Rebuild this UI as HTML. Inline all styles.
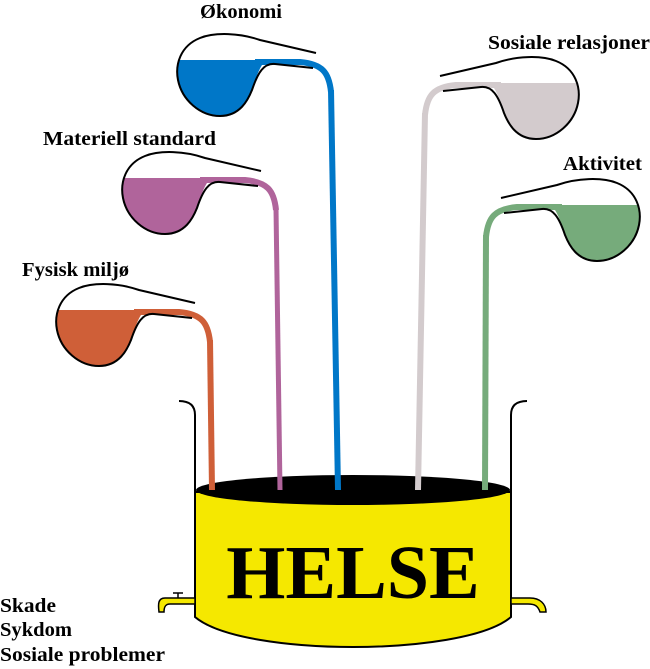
<!DOCTYPE html>
<html><head><style>html,body{margin:0;padding:0;background:#fff}svg{display:block}</style></head>
<body>
<svg width="650" height="669" viewBox="0 0 650 669" xmlns="http://www.w3.org/2000/svg" font-family="Liberation Serif, serif" font-weight="bold">
<defs>
<g id="cup">
  <path d="M316,53 L260,40 C240,33 215,32 200,38 C180,46 175,65 178,80 C182,100 200,116 220,116 C240,116 248,100 252,90 C258,72 264,63 275,64 L313,68" fill="none" stroke="#000" stroke-width="2"/>
</g>
<path id="bowl" d="M178,60 L266,60 C258,68 256,80 252,90 C248,100 240,116 220,116 C200,116 182,100 178,80 Z" stroke="none"/>
<path id="lip" d="M255,62 L300,62 C322,64 329,72 331,92" fill="none" stroke-width="6"/>
</defs>
<!-- pot wires -->
<path d="M179,401 C190,401 195,406 195,415 L195,600" fill="none" stroke="#000" stroke-width="2"/>
<path d="M527,401 C516,401 511,406 511,415 L511,600" fill="none" stroke="#000" stroke-width="2"/>
<!-- pot body -->
<path d="M195,492 L195,617 C220,638 290,647 353,647 C416,647 486,638 511,617 L511,492 Z" fill="#f5e800" stroke="#000" stroke-width="2"/>
<ellipse cx="353" cy="490" rx="157" ry="15" fill="#000"/>
<!-- handles -->
<path d="M195,598 L165,598 C158,598 158,604 159,612 L164,612 C164,606 166,604 170,604 L195,604 Z" fill="#f5e800" stroke="#000" stroke-width="1.5"/>
<path d="M173,593 L183,593 M178,593 L178,598" stroke="#000" stroke-width="1.5"/>
<path d="M511,598 L530,598 C540,598 546,604 546,612 L540,612 C538,606 535,604 528,604 L511,604 Z" fill="#f5e800" stroke="#000" stroke-width="1.5"/>
<text x="353" y="598" font-size="76" text-anchor="middle" fill="#000">HELSE</text>

<g fill="#0077c8" stroke="#0077c8">
 <use href="#bowl"/><use href="#lip"/><use href="#cup"/>
</g>
<path d="M331,90 L338,490" stroke="#0077c8" stroke-width="6"/>

<g transform="translate(-55,118)" fill="#b0649b" stroke="#b0649b">
 <use href="#bowl"/><use href="#lip"/><use href="#cup"/>
</g>
<path d="M276,208 L280,490" stroke="#b0649b" stroke-width="5"/>

<g transform="translate(-121,250)" fill="#cf5f38" stroke="#cf5f38">
 <use href="#bowl"/><use href="#lip"/><use href="#cup"/>
</g>
<path d="M210,340 L212,490" stroke="#cf5f38" stroke-width="6"/>

<g transform="translate(756,23) scale(-1,1)" fill="#d3cbcd" stroke="#d3cbcd">
 <use href="#bowl"/><use href="#lip"/><use href="#cup"/>
</g>
<path d="M425,113 L418,490" stroke="#d3cbcd" stroke-width="6"/>

<g transform="translate(817,145) scale(-1,1)" fill="#76ab7b" stroke="#76ab7b">
 <use href="#bowl"/><use href="#lip"/><use href="#cup"/>
</g>
<path d="M486,235 L485,490" stroke="#76ab7b" stroke-width="6"/>

<g font-size="20" fill="#000">
<text x="200" y="18" textLength="82" lengthAdjust="spacingAndGlyphs">Økonomi</text>
<text x="488" y="49" textLength="162" lengthAdjust="spacingAndGlyphs">Sosiale relasjoner</text>
<text x="43" y="145" textLength="173" lengthAdjust="spacingAndGlyphs">Materiell standard</text>
<text x="563" y="170" textLength="79" lengthAdjust="spacingAndGlyphs">Aktivitet</text>
<text x="22" y="276" textLength="107" lengthAdjust="spacingAndGlyphs">Fysisk miljø</text>
<text x="0" y="612" textLength="56" lengthAdjust="spacingAndGlyphs">Skade</text>
<text x="0" y="636" textLength="72" lengthAdjust="spacingAndGlyphs">Sykdom</text>
<text x="0" y="661" textLength="165" lengthAdjust="spacingAndGlyphs">Sosiale problemer</text>
</g>
</svg>
</body></html>
